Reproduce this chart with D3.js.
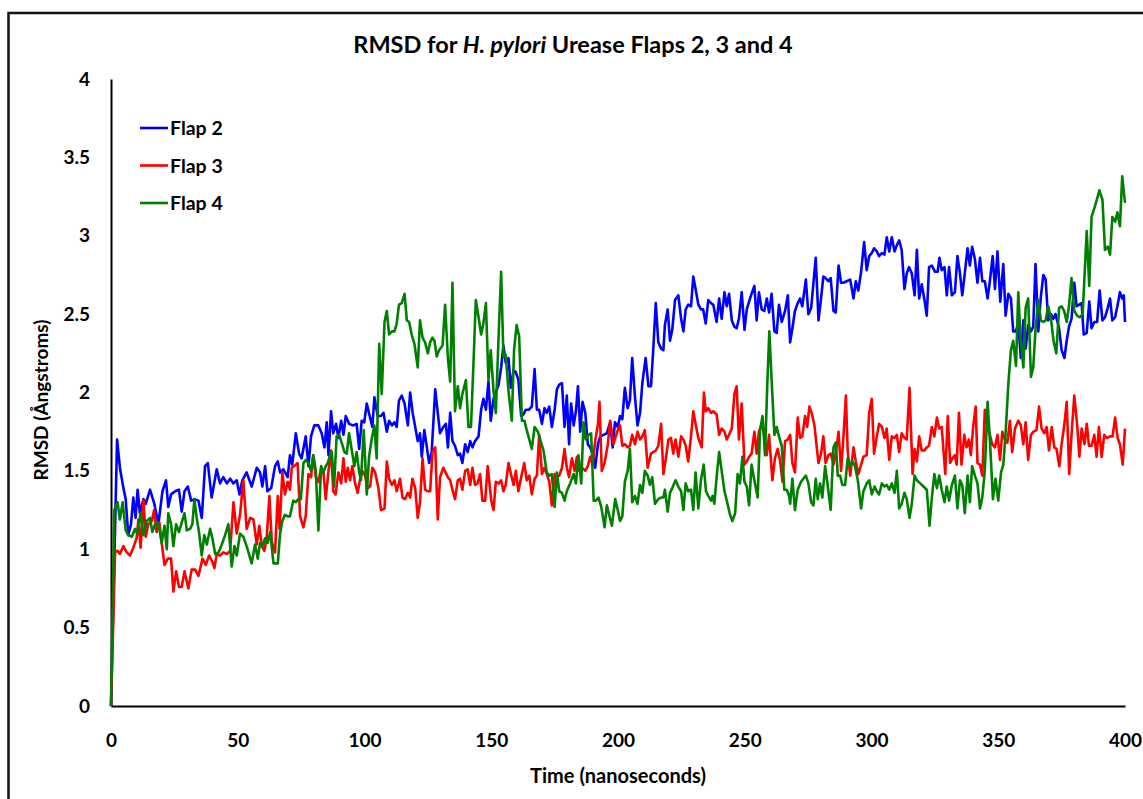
<!DOCTYPE html>
<html>
<head>
<meta charset="utf-8">
<script src="https://cdn.jsdelivr.net/npm/d3@7"></script>
<style>
  html, body { margin: 0; padding: 0; background: #fff; }
  svg { display: block; }
  text { font-family: Lato, "Open Sans", sans-serif; font-weight: bold; fill: #000; }
</style>
</head>
<body>
<svg id="chart" width="1143" height="799"></svg>
<script>
// Simulation time (ns) and RMSD (Å) for each urease flap
const flap2Time = [0,2.4,3.6,4.9,5.8,6.8,7.9,8.8,9.7,10.5,11.4,12.8,13.7,15.4,17.1,18.7,20.3,21.7,22.6,23.7,25.3,26.8,27.9,29.0,30.3,31.6,32.9,34.5,35.8,37.1,38.2,39.7,41.7,43.0,44.3,45.7,47.0,48.3,49.6,50.7,51.8,53.5,55.5,57.5,58.8,59.7,60.8,61.7,63.2,
  64.7,65.8,66.7,68.0,69.7,70.6,71.5,72.9,74.2,75.2,76.8,77.9,78.9,80.2,81.8,83.1,84.2,85.1,85.8,86.8,87.7,88.8,89.7,90.8,91.7,92.6,93.9,95.6,96.9,97.9,98.9,99.9,100.9,102.2,103.1,103.9,105.2,106.5,107.5,108.8,109.7,110.8,111.8,112.7,113.6,114.7,115.8,117.1,118.0,119.0,120.0,121.0,121.9,122.6,123.6,124.6,125.5,126.5,127.9,128.9,129.8,131.1,132.1,132.9,133.8,
  134.7,135.7,136.8,137.7,138.6,139.7,140.7,141.7,142.6,143.6,145.0,146.0,146.9,147.9,148.9,149.8,150.9,151.8,152.9,153.9,154.8,155.7,156.8,157.7,158.8,159.7,160.7,161.8,162.7,163.6,164.8,166.0,167.1,168.0,168.9,170.0,171.0,171.9,172.9,173.9,175.0,175.9,176.8,177.9,178.9,179.8,180.7,181.5,182.5,183.4,184.2,185.1,186.0,187.1,188.1,189.0,190.0,191.0,192.1,193.0,194.3,195.6,196.9,197.9,
  198.8,199.9,200.8,201.7,202.7,203.8,204.7,205.6,206.7,207.7,208.7,209.6,210.9,212.0,213.0,213.9,214.9,215.9,217.0,217.9,218.5,219.6,220.5,221.4,222.5,223.8,224.9,225.8,226.7,227.7,228.8,229.7,230.6,231.7,232.7,233.6,234.6,235.6,236.7,237.6,238.9,239.9,240.9,242.0,242.9,243.8,244.9,245.9,246.8,247.7,248.8,249.9,250.8,251.7,252.7,253.8,254.7,255.6,256.7,257.7,258.7,259.6,260.6,261.7,262.6,263.5,264.6,
  265.9,267.0,267.9,268.8,269.8,270.9,271.8,272.7,274.1,275.1,276.2,277.1,278.0,279.1,280.1,281.0,281.9,283.0,283.9,285.0,285.9,287.0,288.0,288.9,290.2,291.6,292.9,293.8,294.8,295.9,297.1,298.1,299.1,300.1,301.0,302.1,303.0,304.1,305.1,306.0,307.0,308.0,309.1,310.0,310.9,311.9,313.0,313.9,314.8,315.9,317.0,317.9,318.8,319.8,320.9,321.8,322.7,323.8,325.1,326.1,326.8,327.7,328.8,329.7,330.6,331.7,
  332.9,333.9,334.9,335.8,336.8,337.9,338.8,339.7,340.8,341.8,342.8,343.7,344.7,345.8,346.7,347.8,348.7,349.7,350.8,352.0,352.9,354.0,355.0,355.9,356.9,357.9,358.9,359.9,360.8,361.8,362.9,363.8,364.7,365.8,366.8,367.8,368.7,369.7,370.8,371.7,372.6,374.0,375.0,376.1,377.0,377.9,378.9,380.0,380.9,381.9,382.9,383.7,384.9,385.9,386.8,387.9,389.0,390.0,391.1,392.1,393.2,394.1,395.0,396.1,397.1,398.0,398.9,399.5,400.0];
const flap2Rmsd = [0,1.70,1.51,1.39,1.32,1.09,1.16,1.33,1.20,1.38,1.23,1.32,1.29,1.38,1.29,1.16,1.37,1.44,1.27,1.35,1.37,1.38,1.24,1.37,1.40,1.31,1.32,1.31,1.20,1.53,1.55,1.33,1.51,1.42,1.46,1.42,1.45,1.42,1.44,1.35,1.44,1.49,1.40,1.52,1.49,1.40,1.53,1.37,1.39,
  1.53,1.56,1.49,1.51,1.46,1.60,1.54,1.74,1.61,1.58,1.72,1.53,1.72,1.79,1.79,1.74,1.65,1.81,1.60,1.88,1.74,1.80,1.71,1.82,1.73,1.85,1.80,1.79,1.80,1.64,1.82,1.81,1.93,1.84,1.78,1.97,1.85,1.85,1.87,1.75,1.82,1.79,1.81,1.78,1.95,1.98,1.93,1.79,2.00,1.87,1.78,1.69,1.74,1.59,1.76,1.65,1.55,1.62,2.02,1.87,1.74,1.78,1.80,1.65,1.87,
  1.69,1.66,1.60,1.61,1.55,1.67,1.62,1.69,1.65,1.69,1.72,1.89,1.96,1.89,2.07,1.82,1.96,2.00,2.05,2.16,2.30,2.19,2.22,2.03,2.14,2.13,2.08,1.85,1.86,1.89,1.89,1.91,2.15,1.89,1.89,1.80,1.90,1.87,1.91,1.78,1.89,2.02,2.05,2.06,1.78,1.98,1.67,1.93,1.79,1.88,2.04,1.75,1.94,1.87,1.67,1.65,1.61,1.52,1.67,1.72,1.73,1.74,1.81,1.65,
  1.81,1.78,1.85,1.83,2.03,1.90,1.95,2.22,1.97,1.79,1.87,2.06,2.22,2.04,2.04,2.27,2.57,2.32,2.28,2.27,2.43,2.53,2.33,2.40,2.59,2.62,2.47,2.39,2.53,2.56,2.55,2.74,2.66,2.56,2.53,2.53,2.44,2.59,2.57,2.56,2.45,2.60,2.47,2.64,2.55,2.63,2.46,2.42,2.41,2.47,2.64,2.40,2.53,2.58,2.63,2.68,2.46,2.64,2.53,2.52,2.60,2.51,2.63,2.39,2.38,2.56,2.45,
  2.52,2.62,2.32,2.41,2.52,2.57,2.60,2.55,2.72,2.50,2.54,2.70,2.86,2.46,2.60,2.74,2.73,2.71,2.73,2.52,2.51,2.81,2.70,2.70,2.71,2.72,2.60,2.71,2.65,2.77,2.96,2.78,2.87,2.89,2.92,2.90,2.87,2.89,2.88,2.99,2.90,2.99,2.90,2.94,2.97,2.91,2.66,2.76,2.80,2.76,2.62,2.91,2.60,2.69,2.59,2.49,2.80,2.81,2.77,2.77,2.86,2.78,2.80,2.62,2.80,2.62,
  2.64,2.87,2.76,2.62,2.76,2.92,2.81,2.93,2.85,2.70,2.86,2.71,2.71,2.60,2.71,2.87,2.66,2.90,2.58,2.82,2.49,2.63,2.60,2.39,2.39,2.44,2.22,2.46,2.28,2.43,2.39,2.42,2.82,2.39,2.61,2.75,2.72,2.46,2.50,2.47,2.50,2.41,2.27,2.22,2.33,2.42,2.47,2.70,2.55,2.56,2.57,2.37,2.38,2.58,2.41,2.45,2.45,2.65,2.46,2.48,2.54,2.60,2.46,2.48,2.56,2.64,2.60,2.62,2.45];

const flap3Time = [0,1.6,2.6,3.5,4.9,6.2,7.5,8.8,10.1,10.8,11.7,12.8,13.7,14.7,16.1,17.0,18.0,19.1,20.0,21.1,22.4,23.7,24.6,25.7,26.8,27.9,29.0,30.5,31.8,33.2,34.5,36.1,37.4,38.7,40.0,40.8,41.7,43.0,44.3,45.7,47.0,48.3,49.6,50.9,52.2,53.5,54.9,56.2,57.5,58.5,59.5,60.5,61.4,62.5,63.4,
  64.7,65.8,66.5,67.6,68.6,69.7,70.6,71.3,72.3,73.6,74.6,75.9,76.8,77.9,78.9,79.8,80.8,81.8,82.9,83.8,84.7,85.8,86.8,87.7,88.6,89.7,90.8,91.7,92.6,93.4,94.3,95.2,96.3,97.3,98.3,99.2,100.2,101.3,102.2,103.1,104.2,105.5,106.5,107.9,108.8,109.7,110.8,111.8,112.7,114.0,115.0,116.0,117.1,118.0,118.9,120.0,121.0,121.9,122.9,123.9,124.9,125.9,126.8,127.9,128.9,129.8,131.1,
  132.9,133.8,134.7,135.7,136.8,137.7,138.6,139.7,140.7,141.7,142.6,143.6,144.6,145.6,146.5,147.6,148.6,150.0,150.9,151.8,152.9,153.9,154.8,155.7,156.8,157.9,158.8,159.7,160.7,161.8,163.0,164.0,165.0,166.0,167.1,168.0,168.9,170.0,171.0,171.9,172.9,173.9,175.0,175.9,176.8,177.9,178.9,179.8,180.7,181.8,182.9,183.8,184.7,185.8,187.1,188.1,189.0,190.0,191.0,192.1,192.7,193.6,194.7,196.0,196.9,198.2,
  199.9,200.8,201.7,202.7,203.8,204.7,205.6,206.7,207.7,208.7,209.6,210.6,211.7,213.0,213.9,214.9,215.9,217.0,217.9,218.8,219.9,220.9,221.8,222.7,223.8,224.9,225.8,226.7,227.7,228.8,229.7,230.6,231.7,233.0,233.9,234.6,235.6,236.7,237.6,238.9,239.9,240.9,242.0,242.9,243.8,244.9,245.9,246.8,247.7,248.8,249.9,250.8,251.7,252.7,253.8,254.7,255.6,256.7,257.7,258.7,259.6,260.9,261.9,263.0,263.9,264.9,
  265.9,267.0,267.9,268.8,269.8,270.9,271.8,272.7,273.8,274.6,275.5,276.4,277.5,278.4,279.1,280.1,281.0,281.9,283.0,284.0,285.0,285.9,287.0,288.0,288.9,289.9,290.6,291.6,292.9,293.8,294.8,295.9,296.8,298.1,299.1,300.1,301.0,302.1,303.0,304.1,305.1,306.0,307.0,308.0,309.1,310.0,310.9,311.9,313.0,313.9,315.0,316.2,317.0,317.9,318.8,319.8,320.9,321.8,322.7,323.8,324.8,325.8,326.7,327.7,329.1,330.1,331.0,331.9,
  332.9,333.6,334.5,335.5,336.6,337.5,338.4,339.2,340.1,341.1,341.8,342.8,343.7,344.7,345.8,346.7,347.6,348.7,349.7,350.7,351.6,352.6,353.6,354.6,355.5,356.6,357.9,358.9,359.9,360.8,361.8,362.9,363.9,365.1,366.1,367.1,368.2,369.1,370.0,371.1,372.1,373.0,374.1,375.0,376.1,377.0,378.0,378.9,380.0,381.1,382.0,382.9,384.0,384.9,385.8,386.8,387.9,388.8,389.7,390.8,391.8,392.8,394.1,395.1,396.1,397.1,398.0,399.1,400.0];
const flap3Rmsd = [0,0.98,0.99,0.97,1.02,0.98,0.96,1.01,1.07,1.19,1.01,1.31,1.08,1.16,1.18,1.25,1.11,1.17,1.04,0.90,0.94,0.94,0.73,0.86,0.76,0.76,0.86,0.75,0.87,0.87,0.83,0.94,0.90,0.96,0.92,0.88,0.97,0.96,0.98,0.97,0.99,1.30,1.10,1.22,1.44,1.13,1.20,1.19,1.03,1.15,1.02,0.99,1.07,1.34,1.05,
  0.98,1.34,1.13,1.49,1.35,1.43,1.38,1.52,1.53,1.55,1.21,1.14,1.21,1.48,1.46,1.60,1.46,1.43,1.52,1.49,1.32,1.50,1.63,1.37,1.35,1.49,1.42,1.58,1.43,1.52,1.44,1.53,1.42,1.36,1.45,1.50,1.47,1.39,1.40,1.52,1.49,1.39,1.25,1.26,1.56,1.45,1.41,1.44,1.37,1.45,1.33,1.32,1.36,1.33,1.45,1.39,1.20,1.30,1.58,1.38,1.37,1.37,1.62,1.65,1.19,1.46,1.52,
  1.46,1.44,1.38,1.32,1.44,1.45,1.38,1.50,1.51,1.41,1.52,1.41,1.42,1.48,1.31,1.31,1.53,1.31,1.25,1.43,1.42,1.44,1.37,1.41,1.55,1.47,1.41,1.50,1.37,1.46,1.55,1.44,1.47,1.35,1.45,1.47,1.73,1.48,1.52,1.48,1.43,1.28,1.48,1.46,1.47,1.52,1.64,1.52,1.46,1.58,1.50,1.59,1.50,1.52,1.50,1.53,1.59,1.54,1.69,1.80,1.94,1.50,1.55,1.67,1.82,1.67,
  1.76,1.79,1.66,1.67,1.65,1.66,1.73,1.67,1.75,1.70,1.72,1.76,1.52,1.61,1.62,1.63,1.66,1.80,1.48,1.57,1.70,1.71,1.61,1.70,1.59,1.72,1.70,1.66,1.56,1.72,1.88,1.80,1.71,1.65,2.00,1.88,1.90,1.87,1.88,1.86,1.73,1.77,1.75,1.70,1.73,1.77,1.99,2.04,1.70,1.93,1.54,1.56,1.59,1.61,1.75,1.61,1.75,1.80,1.73,1.60,1.73,1.44,1.58,1.64,1.57,1.43,
  1.69,1.70,1.73,1.55,1.49,1.84,1.71,1.72,1.85,1.78,1.91,1.87,1.79,1.65,1.55,1.61,1.72,1.55,1.60,1.61,1.54,1.61,1.75,1.50,1.71,1.98,1.63,1.47,1.65,1.56,1.48,1.54,1.59,1.60,1.87,1.96,1.61,1.72,1.80,1.78,1.71,1.77,1.57,1.72,1.71,1.73,1.62,1.74,1.71,1.70,2.03,1.48,1.64,1.56,1.72,1.63,1.63,1.65,1.66,1.78,1.72,1.84,1.77,1.78,1.48,1.85,1.55,1.58,
  1.60,1.54,1.87,1.54,1.73,1.65,1.70,1.60,1.78,1.91,1.55,1.54,1.47,1.89,1.77,1.73,1.67,1.65,1.73,1.57,1.75,1.70,1.68,1.82,1.62,1.77,1.82,1.79,1.67,1.81,1.57,1.73,1.75,1.76,1.91,1.77,1.74,1.78,1.63,1.78,1.65,1.64,1.53,1.67,1.80,1.94,1.48,1.73,1.98,1.80,1.59,1.77,1.67,1.80,1.66,1.66,1.73,1.59,1.78,1.59,1.73,1.71,1.72,1.72,1.84,1.71,1.67,1.54,1.77];

const flap4Time = [0,1.3,2.6,3.5,4.6,5.8,6.8,8.2,9.5,10.4,11.7,12.8,14.1,15.4,16.3,17.4,18.7,20.0,21.1,22.0,22.6,23.7,24.6,25.7,26.8,27.9,29.0,29.9,31.2,32.1,32.9,33.8,34.7,35.8,36.8,37.8,39.1,40.0,41.1,42.4,43.7,45.0,46.3,47.6,48.7,49.6,50.9,52.2,53.5,55.5,56.8,57.9,58.8,59.7,60.8,61.8,62.8,64.1,
  65.8,66.7,67.6,68.6,69.7,70.6,71.9,72.9,73.9,74.9,75.9,76.8,77.9,78.9,79.8,80.8,81.8,82.9,83.8,84.7,85.5,86.4,87.1,88.0,89.0,90.0,91.0,92.1,93.0,93.9,95.0,96.0,96.9,97.9,98.6,99.7,100.9,101.8,102.9,103.9,104.8,105.8,106.8,107.9,108.8,109.7,110.8,111.8,112.7,113.6,114.7,115.8,116.7,117.6,118.6,119.7,121.0,121.9,122.9,123.9,125.0,125.9,126.8,127.6,128.5,129.4,130.8,131.8,132.9,133.8,
  134.7,135.7,136.8,137.7,138.6,140.0,141.0,142.0,143.0,143.9,145.0,146.0,146.9,147.9,148.9,149.8,150.9,151.8,152.9,153.9,154.8,155.7,156.8,158.1,159.0,160.0,161.0,162.1,163.1,164.0,165.0,166.0,167.1,168.4,169.3,170.6,171.9,172.9,173.9,175.0,175.9,176.8,177.9,178.9,179.8,181.1,182.5,183.4,184.4,185.5,186.4,187.3,188.4,189.4,190.4,191.3,192.3,193.4,194.7,195.6,196.5,197.6,198.9,
  199.9,200.8,201.7,202.7,203.8,204.7,205.6,206.7,207.7,208.7,209.6,210.6,211.7,212.6,213.5,214.6,215.9,217.0,217.9,218.5,219.6,220.5,221.4,222.7,223.8,224.9,225.8,226.7,227.7,228.8,229.7,230.6,231.7,232.7,233.8,234.7,235.6,236.7,237.3,238.0,238.9,239.9,240.9,242.0,242.9,244.2,245.1,246.2,247.2,248.1,249.1,249.9,250.8,251.7,252.7,253.8,255.1,256.0,257.0,258.0,258.9,259.7,260.6,261.7,262.6,263.5,264.6,265.6,266.6,267.5,
  267.9,268.8,269.8,270.9,272.2,273.1,274.1,275.1,276.2,277.1,278.0,278.8,279.7,280.6,281.7,282.7,283.9,285.0,285.9,286.7,287.6,288.5,289.6,290.6,291.6,292.5,293.5,294.6,295.9,296.8,298.1,299.1,300.1,301.2,302.1,303.0,304.1,305.1,306.0,307.0,308.0,309.1,310.0,310.9,311.9,313.0,313.9,315.0,315.9,317.0,317.9,319.2,320.5,321.8,322.9,323.8,324.8,325.8,326.7,327.7,328.8,329.7,330.6,331.7,
  332.9,333.9,334.9,335.8,336.8,337.9,338.8,339.7,340.8,341.8,342.8,343.7,344.7,345.8,346.8,347.9,348.9,350.0,351.1,352.0,352.9,354.0,355.0,355.9,357.0,357.9,358.8,359.9,360.8,361.8,362.9,363.8,364.7,365.8,366.8,367.8,368.7,369.7,370.8,371.8,372.9,374.0,375.0,376.0,377.0,377.9,378.9,380.0,381.1,382.2,383.3,384.9,385.9,386.8,388.2,389.9,391.1,392.1,393.2,394.1,395.0,396.1,397.0,398.0,398.9,400.0];
const flap4Rmsd = [0,1.25,1.30,1.19,1.30,1.12,1.09,1.08,1.13,1.10,1.23,1.09,1.18,1.20,1.11,1.16,1.17,1.04,1.15,1.00,1.23,1.16,1.02,1.16,1.11,1.17,1.23,1.12,1.13,1.16,1.32,1.20,1.11,0.96,1.09,1.03,1.13,1.07,0.97,0.98,1.03,1.09,1.16,0.89,1.02,0.96,1.10,1.08,1.02,0.91,1.03,0.94,1.04,1.02,1.07,1.04,1.11,0.91,
  0.91,1.10,1.18,1.22,1.21,1.21,1.31,1.30,1.32,1.32,1.55,1.57,1.55,1.50,1.60,1.50,1.12,1.53,1.49,1.53,1.55,1.60,1.62,1.40,1.72,1.73,1.68,1.62,1.61,1.74,1.63,1.53,1.62,1.49,1.44,1.76,1.35,1.59,1.71,1.79,1.58,2.31,1.99,2.45,2.52,2.37,2.39,2.39,2.44,2.56,2.57,2.63,2.46,2.45,2.37,2.31,2.16,2.46,2.35,2.32,2.25,2.32,2.35,2.33,2.23,2.27,2.30,2.56,2.22,2.07,
  2.70,1.88,2.04,1.90,1.99,2.08,1.78,1.78,2.19,2.59,2.48,2.37,2.44,2.57,2.08,2.27,2.01,1.87,2.36,2.77,2.23,2.24,2.01,1.82,2.27,2.43,2.36,1.82,1.82,1.76,1.70,1.64,1.78,1.75,1.70,1.63,1.49,1.47,1.48,1.27,1.49,1.37,1.36,1.31,1.37,1.42,1.48,1.42,1.60,1.42,1.81,1.70,1.73,1.74,1.31,1.31,1.33,1.27,1.14,1.28,1.22,1.15,1.32,
  1.25,1.18,1.21,1.43,1.50,1.64,1.30,1.34,1.29,1.41,1.36,1.50,1.47,1.41,1.46,1.29,1.32,1.33,1.33,1.38,1.24,1.36,1.39,1.44,1.40,1.37,1.25,1.42,1.37,1.38,1.25,1.49,1.26,1.44,1.54,1.37,1.34,1.31,1.34,1.29,1.46,1.62,1.50,1.37,1.31,1.22,1.18,1.23,1.48,1.42,1.59,1.43,1.40,1.28,1.54,1.44,1.33,1.75,1.85,1.60,2.06,2.39,2.08,1.73,1.78,1.72,1.66,1.38,1.38,1.34,
  1.29,1.45,1.25,1.38,1.43,1.45,1.47,1.42,1.30,1.28,1.45,1.32,1.42,1.33,1.53,1.41,1.25,1.65,1.68,1.47,1.47,1.41,1.41,1.58,1.53,1.56,1.53,1.44,1.26,1.37,1.42,1.44,1.35,1.40,1.37,1.35,1.42,1.40,1.41,1.38,1.42,1.36,1.50,1.26,1.29,1.36,1.32,1.20,1.29,1.47,1.44,1.42,1.40,1.38,1.15,1.33,1.48,1.39,1.47,1.38,1.30,1.40,1.31,1.41,
  1.47,1.26,1.44,1.41,1.23,1.47,1.30,1.53,1.47,1.42,1.26,1.33,1.50,1.94,1.67,1.32,1.45,1.31,1.49,1.54,1.74,2.06,2.27,2.33,2.17,2.64,2.35,2.16,2.54,2.60,2.10,2.16,2.40,2.59,2.46,2.45,2.46,2.55,2.47,2.33,2.25,2.54,2.55,2.52,2.45,2.55,2.73,2.52,2.49,2.48,2.50,3.03,2.68,3.12,3.19,3.29,3.23,2.91,2.93,2.88,3.12,3.09,3.15,3.06,3.38,3.21];

const seriesNames = ["Flap 2", "Flap 3", "Flap 4"];
const seriesColors = ["#0000FF", "#FF0000", "#008000"];
const xTicks = [0, 50, 100, 150, 200, 250, 300, 350, 400];
const yTicks = [0, 0.5, 1, 1.5, 2, 2.5, 3, 3.5, 4];

const series = [
  { name: seriesNames[0], color: seriesColors[0], t: flap2Time, v: flap2Rmsd },
  { name: seriesNames[1], color: seriesColors[1], t: flap3Time, v: flap3Rmsd },
  { name: seriesNames[2], color: seriesColors[2], t: flap4Time, v: flap4Rmsd }
];

const svg = d3.select("#chart");

// outer chart frame
svg.append("rect")
  .attr("x", 8.5).attr("y", 13)
  .attr("width", 1400).attr("height", 1000)
  .attr("fill", "none").attr("stroke", "#111").attr("stroke-width", 2.5);

const x = d3.scaleLinear().domain([0, 400]).range([111, 1125]);
const y = d3.scaleLinear().domain([0, 4]).range([706, 79]);

// axes: no tick marks, bold labels
const xAxis = svg.append("g")
  .attr("transform", `translate(0,${y(0)})`)
  .call(d3.axisBottom(x).tickValues(xTicks).tickSize(0).tickPadding(28).tickFormat(d3.format("d")));
const yAxis = svg.append("g")
  .attr("transform", `translate(${x(0)},0)`)
  .call(d3.axisLeft(y).tickValues(yTicks).tickSize(0).tickPadding(21).tickFormat(d => String(d)));

[xAxis, yAxis].forEach(g => {
  g.select(".domain").attr("stroke", "#000").attr("stroke-width", 2);
  g.selectAll("text").style("font-size", "19px").style("font-family", "Lato, sans-serif").style("font-weight", "bold").attr("fill", "#000");
});

// data lines
const line = d3.line()
  .x(d => x(d[0]))
  .y(d => y(d[1]));

series.forEach(s => {
  const pts = s.t.map((t, i) => [t, s.v[i]]);
  svg.append("path")
    .datum(pts)
    .attr("fill", "none")
    .attr("stroke", s.color)
    .attr("stroke-width", 2.6)
    .attr("stroke-linejoin", "round")
    .attr("d", line);
});

// title
const title = svg.append("text")
  .attr("x", 573).attr("y", 53)
  .attr("text-anchor", "middle")
  .style("font-size", "23.5px");
title.append("tspan").text("RMSD for ");
title.append("tspan").style("font-style", "italic").text("H. pylori");
title.append("tspan").text(" Urease Flaps 2, 3 and 4");

// axis titles
svg.append("text")
  .attr("x", 618).attr("y", 783)
  .attr("text-anchor", "middle")
  .style("font-size", "20px")
  .text("Time (nanoseconds)");

svg.append("text")
  .attr("transform", "translate(48,400) rotate(-90)")
  .attr("text-anchor", "middle")
  .style("font-size", "19px")
  .text("RMSD (Ångstroms)");

// legend
const legend = svg.append("g");
series.forEach((s, i) => {
  const ly = 128 + i * 37.5;
  legend.append("line")
    .attr("x1", 140).attr("x2", 168)
    .attr("y1", ly).attr("y2", ly)
    .attr("stroke", s.color).attr("stroke-width", 2.6);
  legend.append("text")
    .attr("x", 170).attr("y", ly + 7)
    .style("font-size", "19.5px")
    .text(s.name);
});
</script>
</body>
</html>
